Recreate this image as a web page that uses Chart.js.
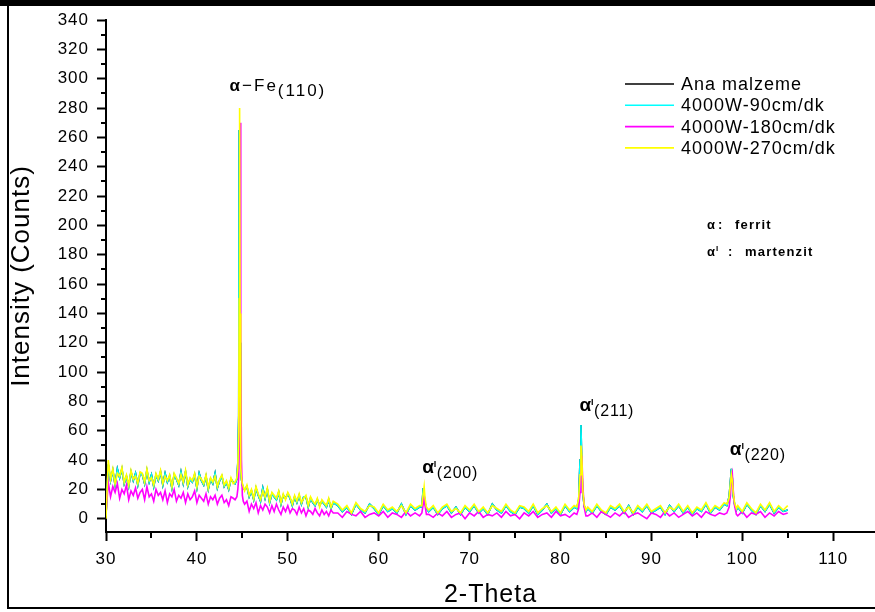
<!DOCTYPE html>
<html>
<head>
<meta charset="utf-8">
<script src="https://cdn.jsdelivr.net/npm/chart.js@4.4.1/dist/chart.umd.min.js"></script>
<style>
    html, body { margin: 0; padding: 0; background: #fff; }
    #wrap { position: relative; width: 875px; height: 612px; overflow: hidden; }
    #xrd { position: absolute; left: 0; top: 0; width: 875px; height: 612px; }
    .frame { position: absolute; background: #000; }
</style>
</head>
<body>
<div id="wrap">
    <canvas id="xrd" width="875" height="612"></canvas>
    <div class="frame" style="left:0;top:0;width:875px;height:6px"></div>
    <div class="frame" style="left:7px;top:0;width:2px;height:609px"></div>
    <div class="frame" style="left:7px;top:607px;width:868px;height:2px"></div>
</div>
<script>
// 2-theta positions (deg)
const twoTheta = [
    30, 30.25, 30.5, 30.75, 31, 31.25, 31.5, 31.75, 32, 32.25, 32.5, 32.75, 33, 33.25, 33.5, 33.75, 34, 34.25, 34.5, 34.75,
    35, 35.25, 35.5, 35.75, 36, 36.25, 36.5, 36.75, 37, 37.25, 37.5, 37.75, 38, 38.25, 38.5, 38.75, 39, 39.25, 39.5, 39.75,
    40, 40.25, 40.5, 40.75, 41, 41.25, 41.5, 41.75, 42, 42.25, 42.5, 42.75, 43, 43.25, 43.5, 43.75, 44,
    44.2, 44.4, 44.5, 44.6, 44.65, 44.7, 44.75, 44.8, 44.85, 44.9, 45, 45.1, 45.25,
    45.5, 45.75, 46, 46.25, 46.5, 46.75, 47, 47.25, 47.5, 47.75, 48, 48.25, 48.5, 48.75, 49, 49.25, 49.5, 49.75,
    50, 50.25, 50.5, 50.75, 51, 51.25, 51.5, 51.75, 52, 52.25, 52.5, 52.75, 53, 53.25, 53.5, 53.75, 54, 54.25, 54.5, 54.75, 55,
    55.5, 56, 56.5, 57, 57.5, 58, 58.5, 59, 59.5, 60, 60.5, 61, 61.5, 62, 62.5, 63, 63.5, 64, 64.5,
    64.75, 64.9, 65, 65.1, 65.25,
    65.5, 66, 66.5, 67, 67.5, 68, 68.5, 69, 69.5, 70, 70.5, 71, 71.5, 72, 72.5, 73, 73.5, 74, 74.5, 75,
    75.5, 76, 76.5, 77, 77.5, 78, 78.5, 79, 79.5, 80, 80.5, 81, 81.5,
    81.8, 82, 82.15, 82.25, 82.35, 82.45, 82.6, 82.8,
    83, 83.5, 84, 84.5, 85, 85.5, 86, 86.5, 87, 87.5, 88, 88.5, 89, 89.5, 90, 90.5, 91, 91.5, 92, 92.5,
    93, 93.5, 94, 94.5, 95, 95.5, 96, 96.5, 97, 97.5, 98,
    98.3, 98.55, 98.7, 98.8, 98.9, 99, 99.15, 99.35,
    99.5, 100, 100.5, 101, 101.5, 102, 102.5, 103, 103.5, 104, 104.5, 105
];

const anaMalzeme = [
    2, 37, 26, 33, 23, 34, 28, 34, 24, 29, 22, 32, 26, 31, 23, 31, 30, 24, 33, 25, 30, 22, 30, 26, 32, 23, 31, 25, 29, 21,
    30, 27, 23, 32, 24, 32, 22, 27, 25, 30, 21, 31, 26, 23, 29, 20, 27, 24, 31, 21, 26, 29, 22, 25, 20, 27, 25,
    24, 27, 38, 70, 265, 200, 120, 55, 34, 27, 23, 21, 20,
    22, 15, 19, 13, 21, 16, 12, 21, 14, 20, 11, 17, 15, 13, 18, 10, 16, 14, 17, 14, 9, 15, 11, 16, 10, 15, 15, 8, 14, 11,
    9, 13, 9, 12, 10, 8, 13, 7, 11,
    9, 5, 8, 3, 10, 6, 4, 10, 7, 3, 9, 5, 7, 4, 10, 3, 9, 6, 8,
    8, 21, 16, 11, 7,
    5, 8, 3, 7, 9, 4, 8, 3, 8, 5, 9, 4, 7, 3, 10, 6, 4, 9, 5, 3, 8, 7, 4, 9, 3, 6, 10, 4, 7, 3, 9, 5, 8,
    7, 13, 40, 64, 35, 18, 9, 5,
    7, 4, 9, 5, 3, 8, 6, 9, 4, 9, 3, 8, 5, 9, 4, 6, 8, 3, 9, 5, 9, 4, 8, 3, 7, 5, 10, 4, 8, 6, 10,
    9, 15, 26, 34, 28, 16, 10, 6,
    8, 4, 10, 6, 3, 9, 5, 10, 4, 8, 5, 6
];

const w90 = [
    2, 37, 26, 33, 23, 34, 28, 34, 24, 29, 22, 32, 26, 31, 23, 31, 30, 24, 33, 25, 30, 22, 30, 26, 32, 23, 31, 25, 29, 21,
    30, 27, 23, 32, 24, 32, 22, 27, 25, 30, 21, 31, 26, 23, 29, 20, 27, 24, 31, 21, 26, 29, 22, 25, 20, 27, 25,
    24, 27, 38, 70, 265, 200, 120, 55, 34, 27, 23, 21, 20,
    22, 15, 19, 13, 21, 16, 12, 21, 14, 20, 11, 17, 15, 13, 18, 10, 16, 14, 17, 14, 9, 15, 11, 16, 10, 15, 15, 8, 14, 11,
    9, 13, 9, 12, 10, 8, 13, 7, 11,
    9, 5, 8, 3, 10, 6, 4, 10, 7, 3, 9, 5, 7, 4, 10, 3, 9, 6, 8,
    8, 21, 16, 11, 7,
    5, 8, 3, 7, 9, 4, 8, 3, 8, 5, 9, 4, 7, 3, 10, 6, 4, 9, 5, 3, 8, 7, 4, 9, 3, 6, 10, 4, 7, 3, 9, 5, 8,
    7, 13, 40, 64, 35, 18, 9, 5,
    7, 4, 9, 5, 3, 8, 6, 9, 4, 9, 3, 8, 5, 9, 4, 6, 8, 3, 9, 5, 9, 4, 8, 3, 7, 5, 10, 4, 8, 6, 10,
    9, 15, 26, 34, 28, 16, 10, 6,
    8, 4, 10, 6, 3, 9, 5, 10, 4, 8, 5, 6
];

const w180 = [
    3, 25, 15, 22, 18, 24, 14, 20, 17, 23, 13, 19, 16, 21, 14, 18, 20, 13, 22, 15, 17, 12, 20, 16, 18, 13, 19, 11, 17, 15,
    20, 12, 16, 14, 18, 11, 17, 13, 15, 19, 11, 16, 14, 12, 17, 10, 15, 13, 16, 10, 14, 16, 11, 13, 9, 15, 14,
    13, 15, 20, 28, 45, 110, 200, 270, 120, 40, 16, 12, 10,
    12, 5, 10, 7, 11, 4, 9, 6, 10, 8, 4, 9, 5, 10, 6, 3, 8, 5, 9, 4, 7, 6, 3, 8, 4, 7, 2, 6, 5, 3,
    7, 4, 2, 6, 3, 5, 2, 6, 4,
    4, 1, 5, 3, 2, 5, 1, 3, 4, 2, 5, 1, 4, 3, 1, 5, 2, 4, 2,
    4, 10, 15, 9, 3,
    3, 1, 4, 2, 5, 1, 3, 4, 0, 4, 2, 5, 1, 3, 2, 4, 1, 5, 2, 3, 0, 4, 2, 5, 1, 3, 4, 1, 5, 2, 3, 1, 4,
    3, 7, 18, 30, 43, 24, 8, 2,
    2, 4, 1, 5, 3, 1, 4, 2, 5, 1, 3, 4, 2, 0, 4, 3, 1, 5, 2, 4, 1, 3, 5, 2, 4, 1, 5, 3, 2, 4, 3,
    4, 8, 16, 28, 31, 20, 9, 3,
    2, 5, 1, 4, 3, 5, 1, 4, 2, 5, 3, 4
];

const w270 = [
    0, 40, 27, 34, 24, 31, 29, 35, 25, 30, 23, 33, 27, 29, 24, 32, 31, 25, 34, 26, 28, 23, 31, 27, 33, 24, 29, 26, 30, 22,
    31, 28, 24, 30, 25, 33, 23, 28, 26, 31, 22, 29, 27, 24, 30, 21, 28, 25, 29, 22, 27, 30, 23, 26, 21, 28, 24,
    25, 28, 34, 60, 150, 280, 140, 60, 35, 28, 24, 22, 19,
    23, 16, 20, 14, 22, 17, 13, 19, 15, 21, 12, 18, 16, 14, 19, 11, 17, 13, 18, 15, 10, 16, 12, 17, 11, 14, 16, 9, 15, 12,
    10, 14, 8, 13, 11, 9, 14, 8, 12,
    10, 6, 9, 4, 11, 7, 5, 9, 8, 4, 10, 6, 8, 5, 9, 4, 10, 7, 9,
    9, 17, 22, 14, 8,
    6, 9, 4, 8, 10, 5, 7, 4, 9, 6, 10, 5, 8, 4, 9, 7, 5, 10, 6, 4, 9, 8, 5, 10, 4, 7, 9, 5, 8, 4, 10, 6, 9,
    8, 14, 30, 50, 42, 20, 10, 6,
    8, 5, 10, 6, 4, 9, 7, 10, 5, 8, 4, 9, 6, 10, 5, 7, 9, 4, 8, 6, 10, 5, 9, 4, 8, 6, 11, 5, 9, 7, 11,
    10, 14, 24, 30, 26, 18, 11, 7,
    9, 5, 11, 7, 4, 10, 6, 11, 5, 9, 6, 9
];

const seriesLabels = ['Ana malzeme', '4000W-90cm/dk', '4000W-180cm/dk', '4000W-270cm/dk'];
const xTickValues = [30, 40, 50, 60, 70, 80, 90, 100, 110];
const yTickValues = [0, 20, 40, 60, 80, 100, 120, 140, 160, 180, 200, 220, 240, 260, 280, 300, 320, 340];

// peak annotations: position of the peak top, hkl text
const mainPeak = { theta: 44.7, counts: 280, text: '−Fe', hkl: '(110)' };
const martensitePeaks = [
    { theta: 65.0, counts: 22, hkl: '(200)' },
    { theta: 82.3, counts: 64, hkl: '(211)' },
    { theta: 98.85, counts: 34, hkl: '(220)' }
];

const FONT = '"Liberation Sans", Arial, sans-serif';
Chart.defaults.font.family = FONT;
Chart.defaults.color = '#000';

const toPoints = values => twoTheta.map((t, i) => ({ x: t, y: values[i] }));

const spacing = {
    id: 'spacing',
    beforeLayout(chart) { chart.ctx.letterSpacing = '1px'; },
    beforeDraw(chart) { chart.ctx.letterSpacing = '1px'; }
};

const minorTicks = {
    id: 'minorTicks',
    afterDraw(chart) {
        const { ctx, chartArea, scales: { x, y } } = chart;
        ctx.save();
        ctx.strokeStyle = '#000';
        ctx.lineWidth = 2;
        ctx.beginPath();
        for (let i = 1; i < x.ticks.length; i++) {
            const px = Math.round(x.getPixelForValue((x.ticks[i - 1].value + x.ticks[i].value) / 2));
            ctx.moveTo(px, chartArea.bottom);
            ctx.lineTo(px, chartArea.bottom + 6);
        }
        for (let i = 1; i < y.ticks.length; i++) {
            const py = Math.round(y.getPixelForValue((y.ticks[i - 1].value + y.ticks[i].value) / 2));
            ctx.moveTo(chartArea.left - 5, py);
            ctx.lineTo(chartArea.left, py);
        }
        ctx.stroke();
        ctx.restore();
    }
};

const insideLegend = {
    id: 'insideLegend',
    afterDraw(chart) {
        const ctx = chart.ctx;
        ctx.save();
        ctx.font = '18px ' + FONT;
        ctx.letterSpacing = '1px';
        ctx.textBaseline = 'middle';
        chart.data.datasets.forEach((ds, i) => {
            const y = 84 + i * 21.3;
            ctx.strokeStyle = ds.borderColor;
            ctx.lineWidth = 1.6;
            ctx.beginPath();
            ctx.moveTo(625, y);
            ctx.lineTo(674, y);
            ctx.stroke();
            ctx.fillStyle = '#000';
            ctx.fillText(ds.label, 681, y + 1);
        });
        ctx.restore();
    }
};

const peakNotes = {
    id: 'peakNotes',
    afterDraw(chart) {
        const { ctx, scales: { x, y } } = chart;
        ctx.save();
        ctx.fillStyle = '#000';
        ctx.textBaseline = 'alphabetic';

        // alpha-Fe (110)
        let x0 = x.getPixelForValue(mainPeak.theta) - 10;
        let y0 = y.getPixelForValue(mainPeak.counts) - 17;
        ctx.letterSpacing = '0px';
        ctx.font = 'bold 17px ' + FONT;
        ctx.fillText('α', x0, y0);
        x0 += ctx.measureText('α').width + 2;
        ctx.font = '17px ' + FONT;
        ctx.letterSpacing = '2px';
        ctx.fillText(mainPeak.text, x0, y0);
        x0 += ctx.measureText(mainPeak.text).width;
        ctx.fillText(mainPeak.hkl, x0, y0 + 5);

        // martensite peaks
        martensitePeaks.forEach(p => {
            const px = x.getPixelForValue(p.theta) - 2;
            const py = y.getPixelForValue(p.counts) - 14;
            ctx.letterSpacing = '0px';
            ctx.font = 'bold 19px ' + FONT;
            ctx.fillText('α', px, py);
            const w = ctx.measureText('α').width;
            ctx.font = 'bold 9px ' + FONT;
            ctx.fillText('I', px + w, py - 6);
            ctx.font = '16px ' + FONT;
            ctx.letterSpacing = '0.8px';
            ctx.fillText(p.hkl, px + w + 3, py + 5);
        });

        // phase key
        ctx.letterSpacing = '0px';
        ctx.font = 'bold 13px ' + FONT;
        ctx.fillText('α', 707, 229);
        ctx.fillText(':', 718, 229);
        ctx.fillText('α', 707, 256);
        ctx.fillText(':', 728, 256);
        ctx.font = 'bold 8px ' + FONT;
        ctx.fillText('I', 716, 251);
        ctx.font = 'bold 13px ' + FONT;
        ctx.letterSpacing = '1.2px';
        ctx.fillText('ferrit', 735, 229);
        ctx.fillText('martenzit', 745, 256);
        ctx.restore();
    }
};

const ctx = document.getElementById('xrd').getContext('2d');

new Chart(ctx, {
    type: 'line',
    data: {
        datasets: [
            { label: seriesLabels[0], data: toPoints(anaMalzeme), borderColor: '#000000', order: 4 },
            { label: seriesLabels[1], data: toPoints(w90), borderColor: '#00FFFF', order: 3 },
            { label: seriesLabels[2], data: toPoints(w180), borderColor: '#FF00FF', order: 2 },
            { label: seriesLabels[3], data: toPoints(w270), borderColor: '#FFFF00', order: 1 }
        ]
    },
    options: {
        responsive: false,
        animation: false,
        events: [],
        layout: { padding: { top: 20, left: 0, right: 0, bottom: 0 } },
        elements: {
            point: { radius: 0 },
            line: { borderWidth: 1.6, tension: 0 }
        },
        plugins: {
            legend: { display: false },
            tooltip: { enabled: false }
        },
        scales: {
            x: {
                type: 'linear',
                min: 30,
                max: 114.6,
                afterBuildTicks: axis => {
                    axis.ticks = xTickValues.map(v => ({ value: v }));
                },
                afterFit: axis => { axis.height = 80; },
                ticks: { padding: 8, font: { size: 17 }, color: '#000', maxRotation: 0, autoSkip: false },
                grid: { drawOnChartArea: false, drawTicks: true, tickLength: 9, tickWidth: 2, tickColor: '#000' },
                border: { display: true, color: '#000', width: 2 },
                title: { display: true, text: '2-Theta', font: { size: 25 }, color: '#000', padding: { top: 0, bottom: 2 } }
            },
            y: {
                type: 'linear',
                min: -9,
                max: 340,
                afterBuildTicks: axis => {
                    axis.ticks = yTickValues.map(v => ({ value: v }));
                },
                afterFit: axis => { axis.width = 106; },
                ticks: { padding: 8, font: { size: 17 }, color: '#000', autoSkip: false },
                grid: { drawOnChartArea: false, drawTicks: true, tickLength: 9, tickWidth: 2, tickColor: '#000' },
                border: { display: true, color: '#000', width: 2 },
                title: { display: true, text: 'Intensity (Counts)', font: { size: 26 }, color: '#000', padding: { top: 6, bottom: 0 } }
            }
        }
    },
    plugins: [spacing, minorTicks, insideLegend, peakNotes]
});
</script>
</body>
</html>
